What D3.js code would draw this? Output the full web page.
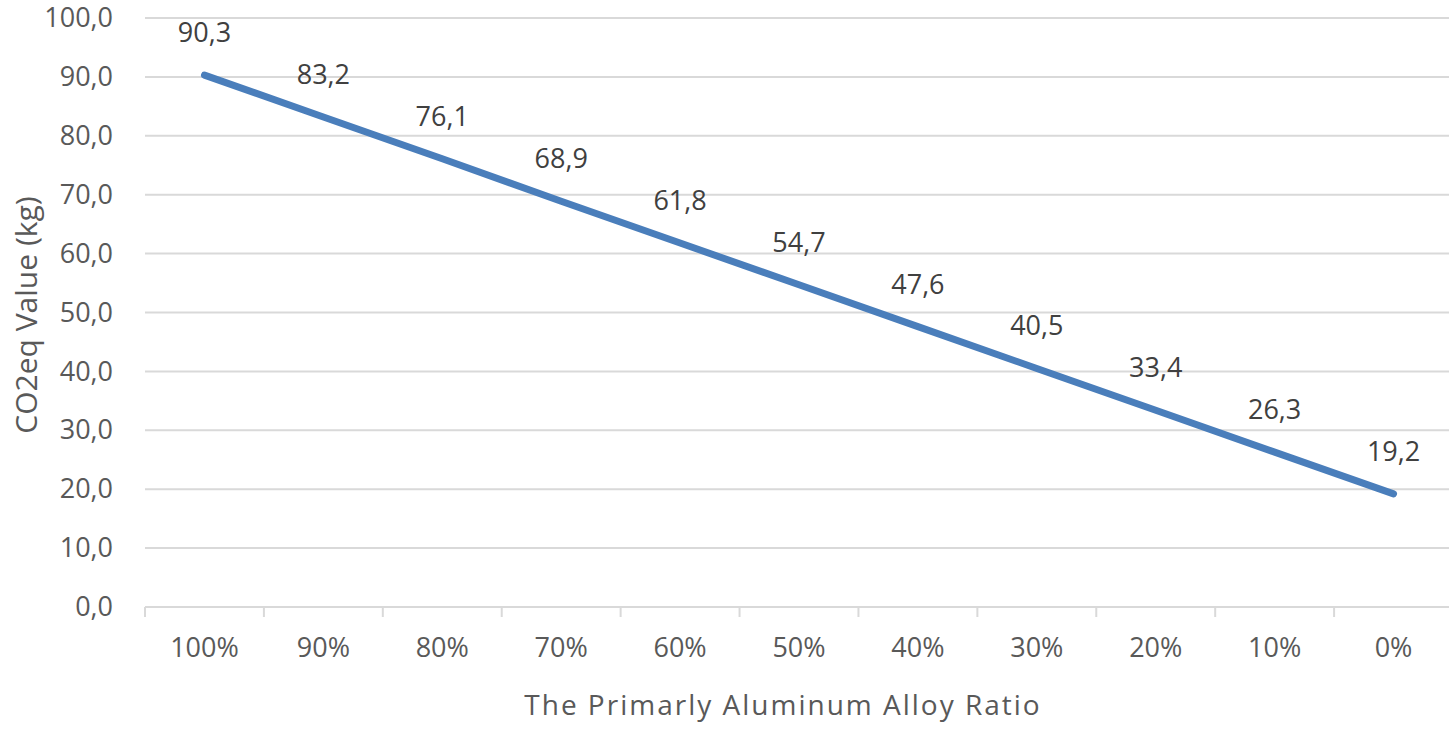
<!DOCTYPE html>
<html><head><meta charset="utf-8">
<script src="https://cdn.jsdelivr.net/npm/d3@7"></script>
<style>body{margin:0;background:#fff}svg{display:block}</style>
</head><body>
<script>
const categories = ["100%","90%","80%","70%","60%","50%","40%","30%","20%","10%","0%"];
const values = [90.3,83.2,76.1,68.9,61.8,54.7,47.6,40.5,33.4,26.3,19.2];
const yTicks = [0,10,20,30,40,50,60,70,80,90,100];
const xTitle = "The Primarly Aluminum Alloy Ratio";
const yTitle = "CO2eq Value (kg)";

const W = 1449, H = 731;
const mLeft = 145, mRight = 1453, mTop = 18, mBottom = 607;
const font = "'Open Sans', 'Noto Sans', sans-serif";
const textColor = "#595959";
const fs = 27;

const svg = d3.select("body").append("svg").attr("width", W).attr("height", H);
const x = d3.scaleBand().domain(categories).range([mLeft, mRight]);
const y = d3.scaleLinear().domain([0, 100]).range([mBottom, mTop]);
const fmt = v => v.toFixed(1).replace(".", ",");

// gridlines
svg.append("g").selectAll("line").data(yTicks).join("line")
  .attr("x1", mLeft).attr("x2", W).attr("y1", d => y(d)).attr("y2", d => y(d))
  .attr("stroke", "#d9d9d9").attr("stroke-width", 2);

// y axis
const ya = svg.append("g").attr("transform", `translate(${mLeft},0)`)
  .call(d3.axisLeft(y).tickValues(yTicks).tickSize(0).tickPadding(32).tickFormat(fmt));
ya.select(".domain").remove();
ya.selectAll("text").attr("font-family", font).attr("font-size", fs).attr("fill", textColor);

// x axis
const xa = svg.append("g").attr("transform", `translate(0,${mBottom})`)
  .call(d3.axisBottom(x).tickSize(0).tickPadding(31));
xa.select(".domain").remove();
xa.selectAll("text").attr("font-family", font).attr("font-size", fs).attr("fill", textColor);
// category boundary tick marks
const bounds = categories.map(c => x(c)).concat([x(categories[categories.length-1]) + x.bandwidth()]);
svg.append("g").selectAll("line").data(bounds).join("line")
  .attr("x1", d => d).attr("x2", d => d).attr("y1", mBottom).attr("y2", mBottom + 10)
  .attr("stroke", "#d9d9d9").attr("stroke-width", 2);

// line
const line = d3.line().x((d, i) => x(categories[i]) + x.bandwidth() / 2).y(d => y(d));
svg.append("path").datum(values).attr("d", line)
  .attr("fill", "none").attr("stroke", "#4a7ebb").attr("stroke-width", 7)
  .attr("stroke-linecap", "round").attr("stroke-linejoin", "round");

// data labels
svg.append("g").selectAll("text").data(values).join("text")
  .attr("x", (d, i) => x(categories[i]) + x.bandwidth() / 2)
  .attr("y", d => y(d) - 33)
  .attr("text-anchor", "middle")
  .attr("font-family", font).attr("font-size", fs).attr("fill", "#404040")
  .text(fmt);

// axis titles
svg.append("text").attr("x", 783).attr("y", 715)
  .attr("text-anchor", "middle").attr("font-family", font).attr("font-size", 28)
  .attr("letter-spacing", 2)
  .attr("fill", textColor).text(xTitle);
svg.append("text").attr("transform", `translate(37,315) rotate(-90)`)
  .attr("text-anchor", "middle").attr("font-family", font).attr("font-size", 30)
  .attr("fill", textColor).text(yTitle);
</script>
</body></html>
